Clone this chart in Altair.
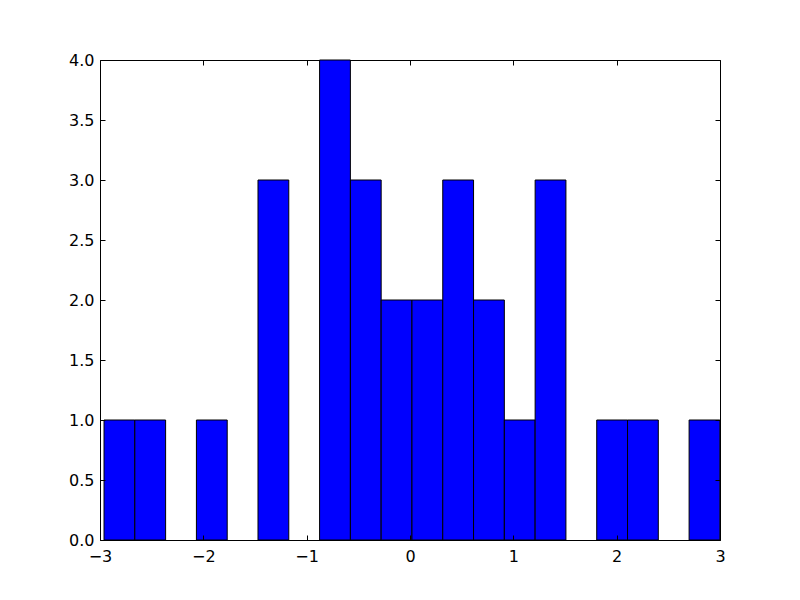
import altair as alt
import pandas as pd

# Histogram bin edges and counts per bin
bin_edges = [-2.961, -2.663, -2.365, -2.067, -1.769, -1.471, -1.173, -0.875,
             -0.577, -0.279, 0.019, 0.317, 0.615, 0.913, 1.211, 1.509,
             1.807, 2.105, 2.403, 2.701, 2.999]
counts = [1, 1, 0, 1, 0, 3, 0, 4, 3, 2, 2, 3, 2, 1, 3, 0, 1, 1, 0, 1]

x_ticks = [-3, -2, -1, 0, 1, 2, 3]
y_ticks = [0.0, 0.5, 1.0, 1.5, 2.0, 2.5, 3.0, 3.5, 4.0]

df = pd.DataFrame({
    "left": bin_edges[:-1],
    "right": bin_edges[1:],
    "count": counts,
})
df = df[df["count"] > 0]

FONT = "DejaVu Sans"
xscale = alt.Scale(domain=[-3, 3], nice=False, zero=False)
yscale = alt.Scale(domain=[0, 4], nice=False)

common_axis = dict(
    domain=False, grid=False, ticks=True, tickSize=5, tickColor="black",
    tickWidth=1, offset=-5, labelFont=FONT, labelFontSize=16,
    labelColor="black", labelFlush=False, labelOverlap=False, labelBound=False,
    zindex=1,
)

bars = alt.Chart(df).mark_rect(
    fill="#0000ff", stroke="black", strokeWidth=1
).encode(
    x=alt.X("left:Q", scale=xscale, title=None,
            axis=alt.Axis(orient="bottom", values=x_ticks, format="d",
                          labelPadding=8, labelExpr="replace(datum.label, '-', '\u2212')",
                          **common_axis)),
    x2="right:Q",
    y=alt.Y("count:Q", scale=yscale, title=None,
            axis=alt.Axis(orient="left", values=y_ticks, format=".1f",
                          labelPadding=6, **common_axis)),
    y2=alt.datum(0),
)

mirror = alt.Chart(df).mark_point(opacity=0).encode(
    x=alt.X("left:Q", scale=xscale, title=None,
            axis=alt.Axis(orient="top", values=x_ticks, labels=False,
                          **common_axis)),
    y=alt.Y("count:Q", scale=yscale, title=None,
            axis=alt.Axis(orient="right", values=y_ticks, labels=False,
                          **common_axis)),
)

chart = alt.layer(bars, mirror).resolve_axis(
    x="independent", y="independent"
).properties(
    width=620, height=480,
    background="white",
    autosize=alt.AutoSizeParams(type="none"),
    padding={"left": 92, "top": 52, "right": 64, "bottom": 44},
).configure_view(
    stroke="black", strokeWidth=1
)

chart.save("out.html", embed_options={"renderer": "svg", "actions": False})
